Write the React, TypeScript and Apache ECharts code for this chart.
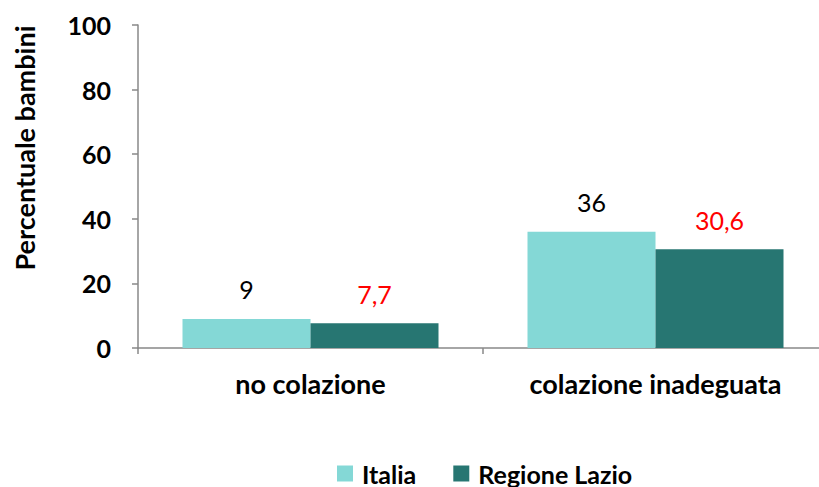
import React, { useEffect, useRef } from "react";
import * as echarts from "echarts";

const categories = ["no colazione", "colazione inadeguata"];
const italia = [9, 36];
const lazio = [7.7, 30.6];
const italiaLabels = ["9", "36"];
const lazioLabels = ["7,7", "30,6"];
const seriesNames = ["Italia", "Regione Lazio"];
const yTitle = "Percentuale bambini";

const FONT = "Lato, 'Open Sans', sans-serif";

export default function App() {
  const ref = useRef<HTMLDivElement>(null);
  useEffect(() => {
    document.body.style.margin = "0";
    document.body.style.overflow = "hidden";
    document.documentElement.style.overflow = "hidden";
    if (!ref.current) return;
    const chart = echarts.init(ref.current, null, { renderer: "svg" });
    chart.setOption({
      animation: false,
      backgroundColor: "#ffffff",
      textStyle: { fontFamily: FONT },
      grid: { left: 138, top: 25, width: 690, height: 323 },
      legend: {
        left: 332,
        top: 456,
        itemWidth: 16,
        itemHeight: 16,
        itemGap: 37,
        icon: "rect",
        textStyle: { fontFamily: FONT, fontWeight: "bold", fontSize: 25, color: "#000", padding: [0, 0, 0, 4] },
        data: seriesNames,
      },
      graphic: [
        {
          type: "text",
          x: 24,
          y: 148,
          rotation: Math.PI / 2,
          style: {
            text: yTitle,
            fontFamily: FONT,
            fontWeight: "bold",
            fontSize: 27,
            fill: "#000",
            align: "center",
            verticalAlign: "middle",
          },
        },
      ],
      xAxis: {
        type: "category",
        data: categories,
        axisLine: { lineStyle: { color: "#888", width: 1.5 } },
        axisTick: { show: true, alignWithLabel: false, length: 6, lineStyle: { color: "#888", width: 1.5 } },
        axisLabel: { margin: 22, fontFamily: FONT, fontWeight: "bold", fontSize: 27, color: "#000" },
      },
      yAxis: {
        type: "value",
        min: 0,
        max: 100,
        interval: 20,
        splitLine: { show: false },
        axisLine: { show: true, lineStyle: { color: "#888", width: 1.5 } },
        axisTick: { show: true, length: 6, lineStyle: { color: "#888", width: 1.5 } },
        axisLabel: { margin: 27, fontFamily: FONT, fontWeight: "bold", fontSize: 25, color: "#000" },
      },
      series: [
        {
          name: seriesNames[0],
          type: "bar",
          data: italia,
          barWidth: 128,
          barGap: "0%",
          itemStyle: { color: "#84d8d6" },
          label: {
            show: true,
            position: "top",
            distance: 17,
            fontFamily: FONT,
            fontSize: 25,
            color: "#000",
            formatter: (p: any) => italiaLabels[p.dataIndex],
          },
        },
        {
          name: seriesNames[1],
          type: "bar",
          data: lazio,
          barWidth: 128,
          barGap: "0%",
          itemStyle: { color: "#277672" },
          label: {
            show: true,
            position: "top",
            distance: 17,
            fontFamily: FONT,
            fontSize: 25,
            color: "#ff0000",
            formatter: (p: any) => lazioLabels[p.dataIndex],
          },
        },
      ],
    });
    return () => chart.dispose();
  }, []);
  return <div ref={ref} style={{ width: 830, height: 487 }} />;
}
